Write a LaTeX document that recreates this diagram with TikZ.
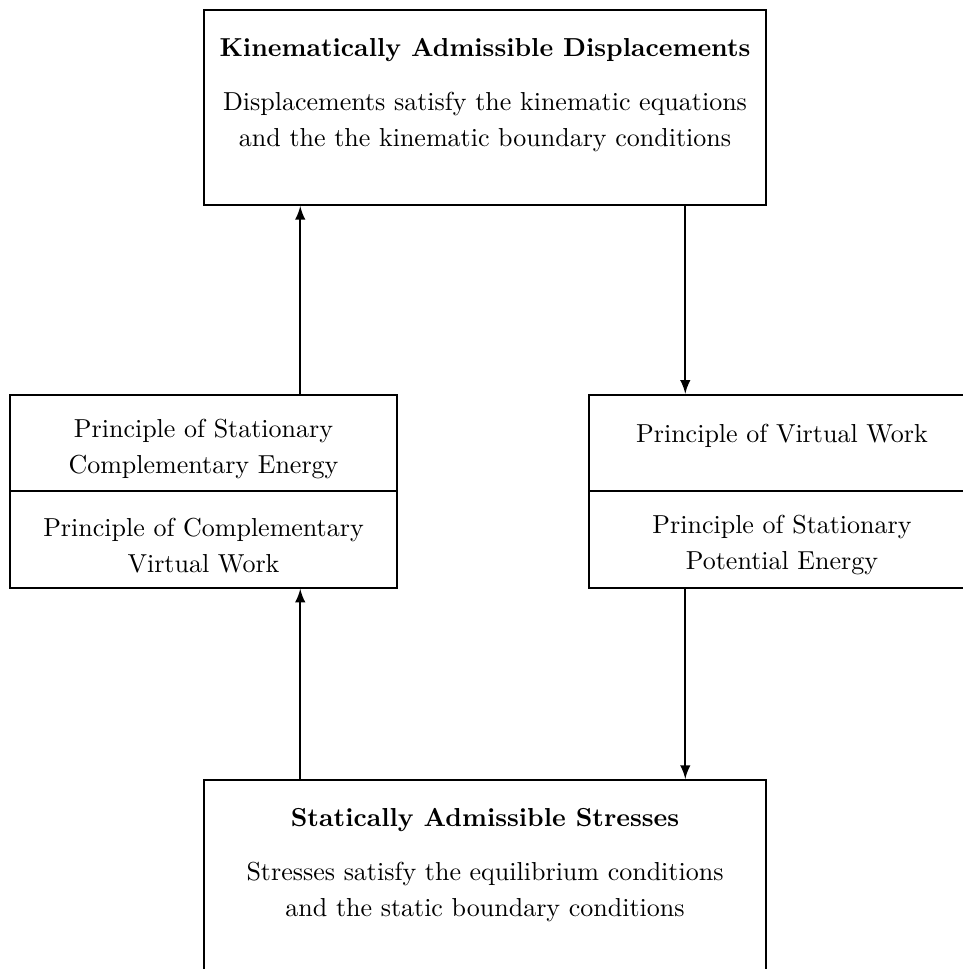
\documentclass[tikz,border=0pt]{standalone}
\newcommand{\tstrut}{\rule{0pt}{11.5pt}}
\begin{document}
\begin{tikzpicture}[x=0.3846pt,y=-0.3846pt,
  bigbox/.style={draw,thick,minimum width=216.2pt,minimum height=75pt,align=center,
    font=\linespread{1.15}\selectfont},
  halfbox/.style={draw,thick,minimum width=148.8pt,minimum height=37.1pt,align=center,
    font=\linespread{1.15}\selectfont},
  every path/.style={thick}]
\useasboundingbox (0,0) rectangle (962,969);
% Admissible fields
\node[bigbox] (kad) at (485,107.5) {\textbf{Kinematically Admissible Displacements}\\[7pt]
  Displacements satisfy the kinematic equations\\ and the the kinematic boundary conditions\\[-2pt]\mbox{}};
\node[bigbox] (sas) at (485,877.5) {\textbf{Statically Admissible Stresses}\\[7pt]
  Stresses satisfy the equilibrium conditions\\ and the static boundary conditions\\[-2pt]\mbox{}};
% Principles
\node[halfbox] (psce) at (203.5,443) {\tstrut Principle of Stationary\\ Complementary Energy};
\node[halfbox] (pcvw) at (203.5,539.5) {\tstrut Principle of Complementary\\ Virtual Work};
\node[halfbox] (pvw) at (782,443) {Principle of Virtual Work\\[-6pt]\mbox{}};
\node[halfbox] (pspe) at (782,539.5) {\tstrut Principle of Stationary\\ Potential Energy};
% Arrows
\draw[-latex] ([xshift=37.2pt]psce.north) -- ([xshift=37.2pt]psce.north |- kad.south);
\draw[-latex] ([xshift=-37.2pt]pvw.north |- kad.south) -- ([xshift=-37.2pt]pvw.north);
\draw[-latex] ([xshift=37.2pt]pcvw.south |- sas.north) -- ([xshift=37.2pt]pcvw.south);
\draw[-latex] ([xshift=-37.2pt]pspe.south) -- ([xshift=-37.2pt]pspe.south |- sas.north);
\end{tikzpicture}
\end{document}
